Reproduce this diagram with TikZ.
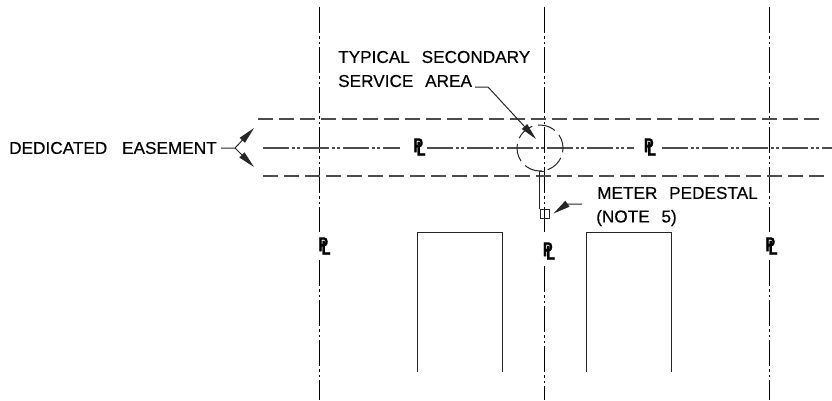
\documentclass[tikz,border=0pt]{standalone}
\usepackage{fontspec}
\setmainfont{Liberation Sans}
\newfontfamily\lblfont[FakeBold=0.3]{Liberation Sans}
\newfontfamily\plfont[FakeBold=1.2]{Liberation Sans Bold}
\usetikzlibrary{arrows.meta}
\tikzset{
 x=1pt,y=-1pt,
 lbl/.style={inner sep=0pt,anchor=west,font=\lblfont\fontsize{17.2}{17.2}\selectfont,text=black},
 pl/.style={inner sep=0pt,font=\plfont\fontsize{20}{20}\selectfont},
 cen/.style={draw=black!70,line width=1.2pt,dash pattern=on 26pt off 3pt on 3pt off 2pt on 3pt off 3pt},
 vcen/.style={draw=black,line width=1pt,dash pattern=on 26pt off 3pt on 2.5pt off 3pt on 2.5pt off 3pt},
 ease/.style={draw=black!70,line width=1.2pt,dash pattern=on 15pt off 6pt},
 obj/.style={draw=black!85,line width=1pt},
 lead/.style={draw=black!85,line width=1pt},
 cone/.style={-{Triangle[length=17pt,width=7pt]}}
}
\newcommand{\plsym}{\scalebox{0.72}[1]{\rlap{\raisebox{1.5pt}{P}}\hspace{4.5pt}\raisebox{-2pt}{L}}}
\begin{document}
\begin{tikzpicture}
\useasboundingbox (0,0) rectangle (832,400);
\coordinate (v1t) at (319.5,7); \coordinate (v1m) at (319.5,232); \coordinate (v1n) at (319.5,260); \coordinate (v1b) at (319.5,400);
\coordinate (v2t) at (544.5,7); \coordinate (v2m) at (544.5,232); \coordinate (v2n) at (544.5,266); \coordinate (v2b) at (544.5,400);
\coordinate (v3t) at (769.5,7); \coordinate (v3m) at (769.5,232); \coordinate (v3n) at (769.5,260); \coordinate (v3b) at (769.5,400);
\draw[vcen] (v1t) -- (v1m);
\draw[vcen] (v1n) -- (v1b);
\draw[vcen] (v2t) -- (v2m);
\draw[vcen] (v2n) -- (v2b);
\draw[vcen] (v3t) -- (v3m);
\draw[vcen] (v3n) -- (v3b);
\coordinate (e1l) at (258,119); \coordinate (e1r) at (821,119);
\coordinate (e2l) at (263,176); \coordinate (e2r) at (826,176);
\draw[ease] (e1l) -- (e1r);
\draw[ease] (e2l) -- (e2r);
\coordinate (c1) at (263,148); \coordinate (c2) at (400,148);
\coordinate (c3) at (427,148); \coordinate (c4) at (634,148);
\coordinate (c5) at (662,148); \coordinate (c6) at (832,148);
\draw[cen] (c1) -- (c2);
\draw[cen] (c3) -- (c4);
\draw[cen] (c5) -- (c6);
\node[pl] (plh1) at (419.5,147) {\plsym};
\node[pl] (plh2) at (650,147) {\plsym};
\node[pl] (plv1) at (324.5,246) {\plsym};
\node[pl] (plv2) at (549,251) {\plsym};
\node[pl] (plv3) at (771.5,246) {\plsym};
\node[lbl] (easement) at (9,148) {DEDICATED\hspace{10pt} EASEMENT};
\node[lbl] (sec1) at (338,57) {TYPICAL\hspace{7pt} SECONDARY};
\node[lbl] (sec2) at (338,81) {SERVICE\hspace{7pt} AREA};
\node[lbl] (met1) at (597,193) {METER\hspace{7pt} PEDESTAL};
\node[lbl] (met2) at (596,218) {(NOTE\hspace{7pt} 5)};
\node[draw=black!85,line width=1pt,dash pattern=on 18pt off 6pt,dash phase=4pt,circle,minimum size=46pt,inner sep=0pt] (area) at (540,148) {};
\node[obj,draw,minimum size=9pt,inner sep=0pt] (ped) at (544.5,213.5) {};
\coordinate (svc) at (539.5,171.5);
\coordinate (svr) at (544.5,171.5);
\draw[obj] (svr) -- (svc) -- (ped.north west);
\coordinate (t0) at (475,87); \coordinate (t1) at (488,87); \coordinate (ttip) at (536,139);
\draw[lead,cone] (t0) -- (t1) -- (ttip);
\coordinate (m0) at (582,204); \coordinate (m1) at (567,204); \coordinate (mtip) at (553.5,213.5);
\draw[lead,cone] (m0) -- (m1) -- (mtip);
\coordinate (d0) at (221,148); \coordinate (d1) at (235,148);
\coordinate (dtop) at (254,128); \coordinate (dbot) at (254,167);
\draw[lead,cone] (d0) -- (d1) -- (dtop);
\draw[lead,cone] (d1) -- (dbot);
\coordinate (b1a) at (417.5,372); \coordinate (b1b) at (417.5,232); \coordinate (b1c) at (502,232); \coordinate (b1d) at (502,372);
\draw[obj] (b1a) -- (b1b) -- (b1c) -- (b1d);
\coordinate (b2a) at (586.5,372); \coordinate (b2b) at (586.5,232); \coordinate (b2c) at (671,232); \coordinate (b2d) at (671,372);
\draw[obj] (b2a) -- (b2b) -- (b2c) -- (b2d);
\end{tikzpicture}
\end{document}
